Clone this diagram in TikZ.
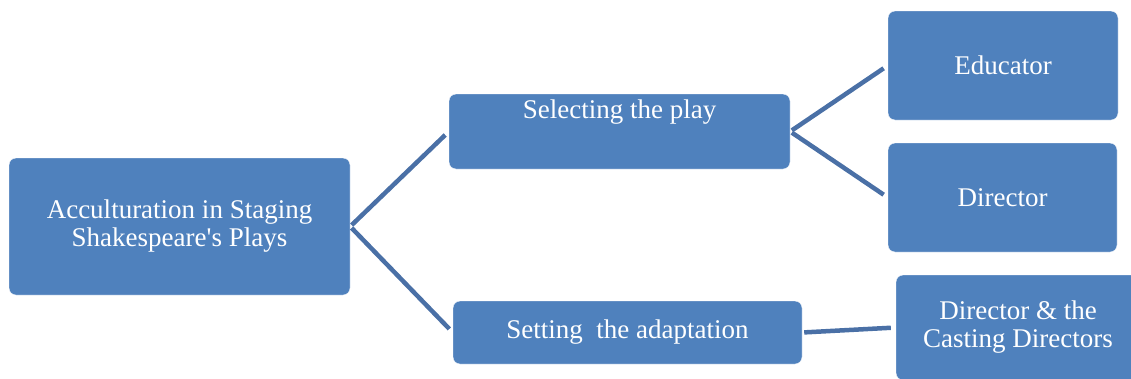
\documentclass[tikz,border=0pt]{standalone}
\usepackage{fontspec}
\setmainfont{Liberation Serif}
\definecolor{boxblue}{HTML}{4F81BD}
\definecolor{lineblue}{HTML}{4A70A6}

\begin{document}
\begin{tikzpicture}[x=1pt,y=-1pt,
  box/.style={draw=white,fill=boxblue,rounded corners=7pt,text=white,
    align=center,inner sep=3pt,font=\fontsize{27}{28}\selectfont},
  link/.style={draw=lineblue,line width=4.5pt,shorten <=2pt,shorten >=5pt}]

\useasboundingbox (0,0) rectangle (1131,378);
\clip (0,0) rectangle (1131,378);

\node [box,minimum width=341pt,minimum height=137pt] (root) at (179.5,226.5)
  {Acculturation in Staging\\Shakespeare\textquotesingle s Plays};
\node [box,minimum width=341pt,minimum height=75pt,
  label={[text=white,font=\fontsize{27}{28}\selectfont,anchor=north,yshift=-2pt]north:Selecting the play}]
  (select) at (619.5,131.5) {};
\node [box,minimum width=349pt,minimum height=63pt] (adapt) at (627.5,332.5)
  {Setting\ \ the adaptation};
\node [box,minimum width=230pt,minimum height=109pt] (educator) at (1003,65.5) {Educator};
\node [box,minimum width=229pt,minimum height=109pt] (director) at (1002.5,197.5) {Director};
\node [box,minimum width=244pt,minimum height=105pt] (casting) at (1018,327.5)
  {Director \& the\\Casting Directors};

\draw [link] (root.east) -- (select.west);
\draw [link] (root.east) -- (adapt.west);
\draw [link] (select.east) -- (educator.west);
\draw [link] (select.east) -- (director.west);
\draw [link] (adapt.east) -- (casting.west);

\end{tikzpicture}
\end{document}
